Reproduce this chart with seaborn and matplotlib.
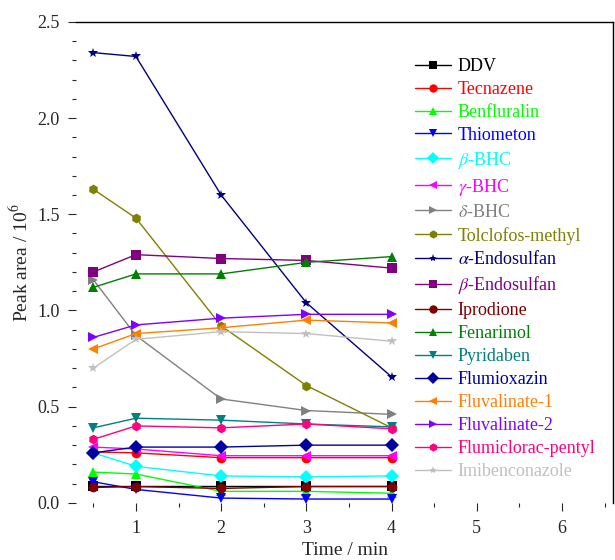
import matplotlib
matplotlib.use("Agg")
import matplotlib.pyplot as plt
from matplotlib.ticker import MultipleLocator
import seaborn as sns
import pandas as pd

# sampling times (min)
times = [0.5, 1, 2, 3, 4]

compounds = [
    "DDV", "Tecnazene", "Benfluralin", "Thiometon", r"$\beta$-BHC", r"$\gamma$-BHC",
    r"$\delta$-BHC", "Tolclofos-methyl", r"$\alpha$-Endosulfan", r"$\beta$-Endosulfan",
    "Iprodione", "Fenarimol", "Pyridaben", "Flumioxazin", "Fluvalinate-1",
    "Fluvalinate-2", "Flumiclorac-pentyl", "Imibenconazole",
]

# peak area / 10^6 at each time point
ddv = [0.09, 0.09, 0.09, 0.09, 0.09]
tecnazene = [0.265, 0.26, 0.235, 0.235, 0.235]
benfluralin = [0.16, 0.15, 0.06, 0.06, 0.05]
thiometon = [0.11, 0.07, 0.025, 0.02, 0.02]
beta_bhc = [0.26, 0.19, 0.14, 0.135, 0.14]
gamma_bhc = [0.29, 0.28, 0.245, 0.245, 0.245]
delta_bhc = [1.16, 0.87, 0.54, 0.48, 0.46]
tolclofos = [1.63, 1.48, 0.92, 0.61, 0.39]
alpha_endo = [2.34, 2.32, 1.60, 1.04, 0.655]
beta_endo = [1.20, 1.29, 1.27, 1.26, 1.22]
iprodione = [0.08, 0.085, 0.075, 0.085, 0.085]
fenarimol = [1.12, 1.19, 1.19, 1.25, 1.28]
pyridaben = [0.39, 0.44, 0.43, 0.41, 0.395]
flumioxazin = [0.26, 0.29, 0.29, 0.30, 0.30]
fluvalinate1 = [0.80, 0.88, 0.91, 0.95, 0.935]
fluvalinate2 = [0.86, 0.925, 0.96, 0.98, 0.98]
flumiclorac = [0.33, 0.40, 0.39, 0.41, 0.385]
imibenconazole = [0.70, 0.85, 0.89, 0.88, 0.84]

series = [ddv, tecnazene, benfluralin, thiometon, beta_bhc, gamma_bhc, delta_bhc,
          tolclofos, alpha_endo, beta_endo, iprodione, fenarimol, pyridaben,
          flumioxazin, fluvalinate1, fluvalinate2, flumiclorac, imibenconazole]

colors = ["#000000", "#FF0000", "#00FF00", "#0000FF", "#00FFFF", "#FF00FF",
          "#808080", "#808000", "#000080", "#800080", "#800000", "#008000",
          "#008080", "#0000A0", "#FF8000", "#8000FF", "#FF0080", "#C0C0C0"]
markers = ["s", "o", "^", "v", "D", "<", ">", "h", "*",
           "s", "o", "^", "v", "D", "<", ">", "h", "*"]

rows = []
for name, vals in zip(compounds, series):
    for t, v in zip(times, vals):
        rows.append({"Time": t, "Peak": v, "Compound": name})
df = pd.DataFrame(rows)

sns.set_theme(style="ticks")
plt.rcParams["font.family"] = ["Liberation Serif", "DejaVu Serif"]
plt.rcParams["mathtext.fontset"] = "stix"

fig = plt.figure(figsize=(6.15, 5.6), dpi=100)
ax = fig.add_axes([0.124, 0.102, 0.873, 0.859])

sns.lineplot(data=df, x="Time", y="Peak", hue="Compound", style="Compound",
             hue_order=compounds, style_order=compounds,
             palette=dict(zip(compounds, colors)),
             markers=dict(zip(compounds, markers)), dashes=False,
             linewidth=1.0, markersize=7, markeredgewidth=0, ax=ax)

ax.set_xlim(0.3, 6.6)
ax.set_ylim(0, 2.5)
ax.xaxis.set_major_locator(MultipleLocator(1))
ax.xaxis.set_minor_locator(MultipleLocator(0.5))
ax.yaxis.set_major_locator(MultipleLocator(0.5))
ax.yaxis.set_minor_locator(MultipleLocator(0.1))
ax.yaxis.set_major_formatter(matplotlib.ticker.FormatStrFormatter("%.1f"))
ax.set_xticks([1, 2, 3, 4, 5, 6])
ax.tick_params(axis="both", which="major", labelsize=13, length=6, width=0.8, pad=6)
ax.tick_params(axis="both", which="minor", length=3, width=0.8)

for side in ["left", "bottom"]:
    ax.spines[side].set_visible(False)
for side in ["top", "right"]:
    ax.spines[side].set_linewidth(1.0)
    ax.spines[side].set_color("black")

ax.set_xlabel("Time / min", fontsize=14, labelpad=4)
ax.set_ylabel("Peak area / 10$^6$", fontsize=14, labelpad=4)

leg = ax.legend(loc="upper left", bbox_to_anchor=(0.63, 0.925), frameon=False,
                fontsize=13, handlelength=2.0, handletextpad=0.4,
                labelspacing=0.33, borderpad=0, borderaxespad=0)
for text, c in zip(leg.get_texts(), colors):
    text.set_color(c)
for line in leg.get_lines():
    line.set_markersize(6)

fig.savefig("out.png", dpi=100)
plt.close(fig)
